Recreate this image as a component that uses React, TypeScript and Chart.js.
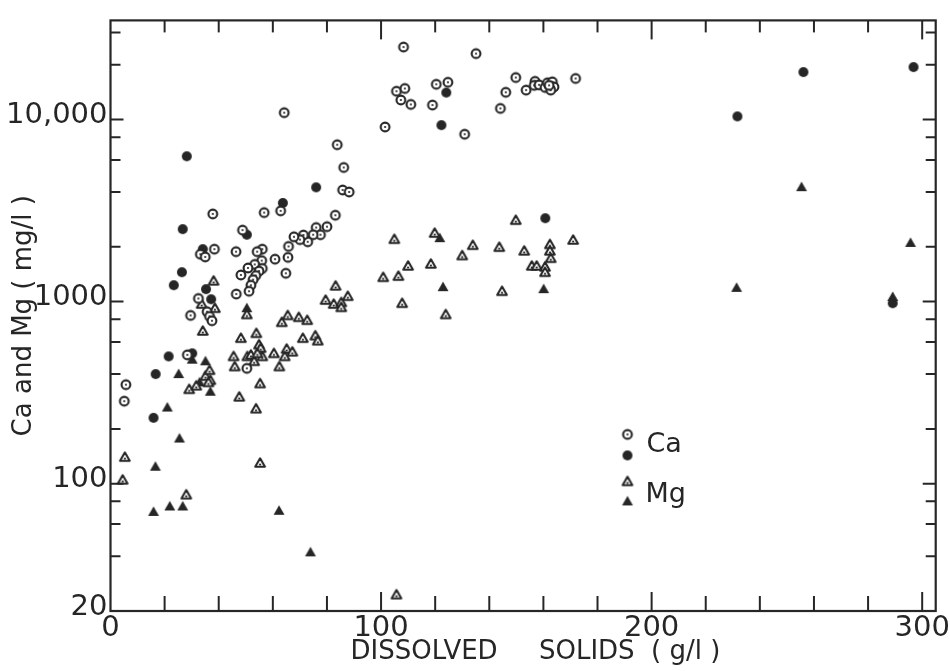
import { useEffect, useRef } from 'react';
import { Chart, registerables } from 'chart.js';

Chart.register(...registerables);
Chart.defaults.font.family = 'DejaVu Sans';

const INK = '#262626';

// ---- data (dissolved solids g/l, concentration mg/l) ----
const caOpenX = [108.3, 135.1, 149.8, 120.4, 124.7, 105.7, 108.8, 107.3, 111.0, 119.0, 146.1, 144.1, 101.5, 130.9, 64.2, 83.8, 86.2, 85.8, 88.2, 83.1, 56.8, 62.9, 37.8, 80.0, 76.0, 77.6, 74.9, 72.9, 71.3, 70.0, 67.8, 65.8, 65.6, 60.8, 64.8, 56.1, 54.2, 55.9, 53.3, 50.8, 56.1, 54.9, 53.7, 52.7, 51.9, 51.2, 48.8, 46.4, 48.2, 46.5, 38.4, 33.2, 35.0, 32.5, 29.6, 35.7, 36.6, 37.5, 153.6, 156.9, 156.6, 158.4, 160.6, 161.5, 163.3, 163.9, 162.7, 162.1, 171.9, 5.7, 5.1, 28.4, 50.4];
const caOpenY = [25000, 23000, 17000, 15600, 16000, 14300, 14800, 12800, 12100, 12000, 14100, 11500, 9100, 8300, 10900, 7270, 5450, 4100, 4000, 2980, 3080, 3150, 3030, 2580, 2550, 2330, 2330, 2130, 2320, 2190, 2270, 2010, 1750, 1710, 1430, 1940, 1880, 1680, 1600, 1530, 1520, 1470, 1390, 1320, 1230, 1140, 2470, 1880, 1400, 1100, 1940, 1820, 1760, 1040, 840, 880, 830, 785, 14500, 16200, 15400, 15500, 15000, 15900, 16100, 15100, 14500, 15400, 16800, 350, 284, 510, 430];

const caFilledX = [28.2, 26.7, 26.4, 23.4, 34.1, 35.3, 37.2, 50.4, 63.7, 76.0, 124.1, 122.3, 256.1, 296.8, 231.7, 160.7, 289.1, 30.2, 21.5, 16.7, 15.9];
const caFilledY = [6280, 2500, 1450, 1230, 1940, 1170, 1030, 2330, 3480, 4240, 14050, 9310, 18200, 19400, 10400, 2870, 980, 520, 500, 400, 230];

const mgOpenX = [38.1, 33.7, 38.6, 50.4, 83.2, 79.5, 82.5, 85.3, 85.3, 87.7, 65.5, 63.3, 69.6, 72.7, 100.8, 106.4, 104.9, 110.0, 107.8, 118.4, 119.8, 130.0, 133.9, 143.7, 144.7, 149.8, 123.9, 152.9, 162.4, 162.4, 162.7, 155.7, 157.5, 160.6, 160.6, 171.0, 34.1, 48.2, 53.9, 71.1, 75.7, 76.6, 54.9, 55.5, 45.5, 45.9, 50.6, 51.9, 53.1, 56.1, 54.3, 60.4, 65.1, 67.2, 64.4, 62.4, 55.3, 47.6, 53.8, 55.3, 29.1, 31.7, 35.1, 36.6, 36.9, 36.2, 5.3, 4.5, 28.0, 105.7];
const mgOpenY = [1300, 970, 920, 850, 1220, 1020, 970, 990, 930, 1070, 840, 770, 820, 790, 1360, 1380, 2200, 1570, 980, 1610, 2380, 1790, 2040, 1990, 1140, 2800, 850, 1900, 2060, 1900, 1730, 1570, 1570, 1550, 1450, 2180, 690, 630, 670, 630, 650, 610, 580, 555, 500, 440, 500, 510, 470, 500, 520, 520, 550, 530, 500, 440, 355, 300, 258, 130, 330, 345, 390, 420, 370, 360, 140, 105, 87, 24.6];

const mgFilledX = [121.7, 122.9, 50.4, 255.4, 295.7, 231.4, 160.1, 289.1, 25.2, 30.2, 35.1, 32.9, 36.9, 21.0, 25.5, 16.6, 15.9, 21.9, 26.7, 62.3, 73.9];
const mgFilledY = [2230, 1200, 920, 4250, 2100, 1190, 1170, 1060, 400, 480, 470, 360, 320, 262, 177, 124, 70, 75, 75, 71, 42];

// ---- axes ----
const xTickValues = [0, 100, 200, 300];
const xTickLabels = ['0', '100', '200', '300'];
const xMarkValues = [20, 40, 60, 80, 100, 120, 140, 160, 180, 200, 220, 240, 260, 280, 300];
const xMajorMarks = [100, 200, 300];
const yTickValues = [20, 100, 1000, 10000];
const yTickLabels = ['20', '100', '1000', '10,000'];
const yMarkValues = [40, 60, 80, 100, 200, 400, 600, 800, 1000, 2000, 4000, 6000, 8000, 10000, 20000, 30000];
const yMajorMarks = [100, 1000, 10000];
const legendLabels = ['Ca', 'Mg'];
const xTitle = '   DISSOLVED     SOLIDS  ( g/l )';
const yTitle = 'Ca and Mg ( mg/l )';

function zip(xs: number[], ys: number[]) {
  return xs.map((x, i) => ({ x, y: ys[i] }));
}

function makeMarker(kind: 'circleOpen' | 'circleFilled' | 'triOpen' | 'triFilled') {
  const c = document.createElement('canvas');
  const s = 16;
  c.width = s;
  c.height = s;
  const g = c.getContext('2d')!;
  const cx = s / 2;
  g.strokeStyle = INK;
  g.fillStyle = INK;
  g.lineWidth = 2.1;
  if (kind === 'circleOpen' || kind === 'circleFilled') {
    g.beginPath();
    g.arc(cx, cx, kind === 'circleOpen' ? 4.4 : 5.0, 0, Math.PI * 2);
    if (kind === 'circleOpen') {
      g.fillStyle = '#fff';
      g.fill();
      g.stroke();
      g.fillStyle = INK;
      g.beginPath();
      g.arc(cx, cx, 1.1, 0, Math.PI * 2);
      g.fill();
    } else {
      g.fill();
    }
  } else {
    const r = kind === 'triOpen' ? 5.6 : 6.3;
    const cy = cx + 0.9;
    g.beginPath();
    for (let k = 0; k < 3; k++) {
      const a = -Math.PI / 2 + (k * 2 * Math.PI) / 3;
      const px = cx + Math.cos(a) * r;
      const py = cy + Math.sin(a) * r;
      if (k === 0) g.moveTo(px, py);
      else g.lineTo(px, py);
    }
    g.closePath();
    if (kind === 'triOpen') {
      g.fillStyle = '#fff';
      g.fill();
      g.lineJoin = 'round';
      g.stroke();
      g.fillStyle = INK;
      g.beginPath();
      g.arc(cx, cy + 0.7, 1.1, 0, Math.PI * 2);
      g.fill();
    } else {
      g.fill();
    }
  }
  return c;
}

export default function App() {
  const ref = useRef<HTMLCanvasElement | null>(null);

  useEffect(() => {
    document.body.style.margin = '0';
    document.body.style.background = '#fff';
    const canvas = ref.current;
    if (!canvas) return;

    const mCO = makeMarker('circleOpen');
    const mCF = makeMarker('circleFilled');
    const mTO = makeMarker('triOpen');
    const mTF = makeMarker('triFilled');

    const framePlugin = {
      id: 'frame',
      afterDraw(chart: any) {
        const { ctx, chartArea: a, scales } = chart;
        const xs = scales.x;
        const ys = scales.y;
        const bottom = a.bottom;
        ctx.save();
        ctx.strokeStyle = INK;
        ctx.lineCap = 'butt';
        ctx.lineWidth = 2.2;
        ctx.strokeRect(a.left, a.top, a.right - a.left, a.bottom - a.top);
        ctx.lineWidth = 2;
        for (const v of xMarkValues) {
          const px = xs.getPixelForValue(v);
          const major = xMajorMarks.includes(v);
          ctx.beginPath();
          ctx.moveTo(px, bottom);
          ctx.lineTo(px, bottom - (major ? 19 : 15));
          ctx.stroke();
          ctx.beginPath();
          ctx.moveTo(px, a.top);
          ctx.lineTo(px, a.top + (major ? 19 : 12));
          ctx.stroke();
        }
        for (const v of yMarkValues) {
          const py = ys.getPixelForValue(v);
          const len = yMajorMarks.includes(v) ? 13 : 10;
          ctx.beginPath();
          ctx.moveTo(a.left, py);
          ctx.lineTo(a.left + len, py);
          ctx.moveTo(a.right, py);
          ctx.lineTo(a.right - len, py);
          ctx.stroke();
        }
        const lx = a.left + 517;
        const top = a.top;
        ctx.drawImage(mCO, lx - 8, top + 414 - 8);
        ctx.drawImage(mCF, lx - 8, top + 435 - 8);
        ctx.drawImage(mTO, lx - 8, top + 461 - 8);
        ctx.drawImage(mTF, lx - 8, top + 481 - 8);
        ctx.fillStyle = INK;
        ctx.font = '27px "DejaVu Sans"';
        ctx.textAlign = 'left';
        ctx.textBaseline = 'middle';
        ctx.fillText(legendLabels[0], lx + 19, top + 425);
        ctx.fillText(legendLabels[1], lx + 18, top + 475);
        ctx.restore();
      },
    };

    const chart = new Chart(canvas, {
      type: 'scatter',
      data: {
        datasets: [
          { label: 'Ca', data: zip(caOpenX, caOpenY), pointStyle: mCO as any, pointRadius: 5 },
          { label: 'Ca', data: zip(caFilledX, caFilledY), pointStyle: mCF as any, pointRadius: 5 },
          { label: 'Mg', data: zip(mgOpenX, mgOpenY), pointStyle: mTO as any, pointRadius: 5 },
          { label: 'Mg', data: zip(mgFilledX, mgFilledY), pointStyle: mTF as any, pointRadius: 5 },
        ],
      },
      options: {
        animation: false,
        responsive: false,
        layout: { padding: { left: 0, right: 8.5, top: 16, bottom: 0 } },
        plugins: { legend: { display: false }, tooltip: { enabled: false } },
        scales: {
          x: {
            type: 'linear',
            min: 0,
            max: 305,
            grid: { display: false, drawTicks: false },
            border: { display: false },
            afterFit: (s: any) => { s.height = 60; },
            afterBuildTicks: (s: any) => { s.ticks = xTickValues.map((v) => ({ value: v })); },
            ticks: {
              padding: 0,
              color: INK,
              font: { size: 29 },
              maxRotation: 0,
              autoSkip: false,
              callback: (v: any) => { const i = xTickValues.indexOf(Number(v)); return i >= 0 ? xTickLabels[i] : ''; },
            },
            title: { display: true, text: xTitle, color: INK, font: { size: 26 }, padding: { top: 0, bottom: 3 } },
          },
          y: {
            type: 'logarithmic',
            min: 20,
            max: 35000,
            grid: { display: false, drawTicks: false },
            border: { display: false },
            afterFit: (s: any) => { s.width = 110.5; },
            afterBuildTicks: (s: any) => { s.ticks = yTickValues.map((v) => ({ value: v })); },
            ticks: {
              padding: 3,
              labelOffset: -4,
              color: INK,
              font: { size: 29 },
              autoSkip: false,
              callback: (v: any) => { const i = yTickValues.indexOf(Number(v)); return i >= 0 ? yTickLabels[i] : ''; },
            },
            title: { display: true, text: yTitle, color: INK, font: { size: 26 }, padding: { top: 9, bottom: 0 } },
          },
        },
      },
      plugins: [framePlugin],
    });

    return () => chart.destroy();
  }, []);

  return <canvas ref={ref} width={950} height={671} style={{ display: 'block' }} />;
}
